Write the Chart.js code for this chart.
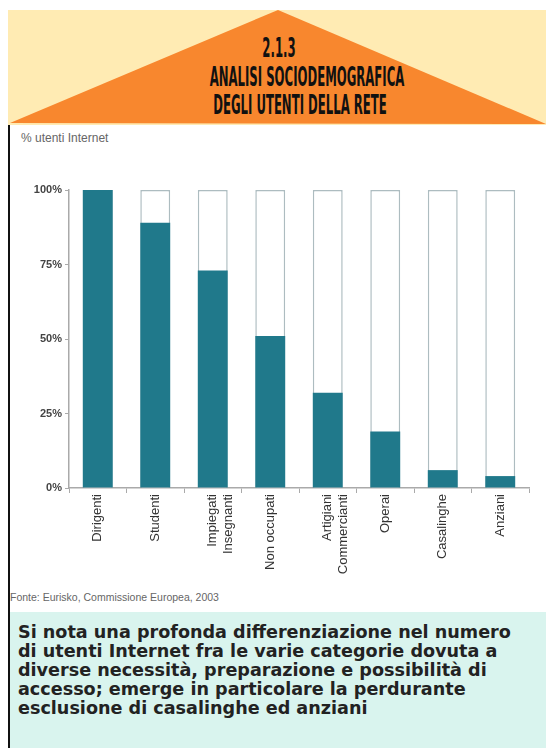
<!DOCTYPE html>
<html lang="it">
<head>
<meta charset="UTF-8">
<title>Analisi sociodemografica degli utenti della rete</title>
<style>
  body { margin: 0; width: 546px; height: 748px; background: #fff; position: relative; overflow: hidden; font-family: "Liberation Sans", Arial, sans-serif; }
  #band { position: absolute; left: 8px; top: 10px; width: 538px; height: 115px; background: #ffebb3; }
  #tri { position: absolute; left: 0; top: 10px; }
  .ttl { position: absolute; width: 400px; text-align: center; font-family: "DejaVu Sans Condensed", "DejaVu Sans", sans-serif; font-weight: bold; font-stretch: condensed; font-size: 26px; color: #111; transform: scaleX(0.5); line-height: 1; white-space: nowrap; }
  #leftline { position: absolute; left: 8px; top: 125px; width: 2px; height: 623px; background: #111; }
  #ytitle { position: absolute; left: 21px; top: 131px; font-size: 12px; color: #666; }
  #wrap { position: absolute; left: 10px; top: 170px; width: 528px; height: 418px; }
  #source { position: absolute; left: 10px; top: 591px; font-size: 10.5px; color: #666; }
  #note { position: absolute; left: 10px; top: 612px; width: 536px; height: 136px; background: #d9f4ee; }
  #note p { margin: 0; padding: 11px 0 0 8px; font-family: "DejaVu Sans", sans-serif; font-weight: bold; font-size: 17.6px; line-height: 19px; color: #222; white-space: nowrap; }
</style>
<script src="https://cdn.jsdelivr.net/npm/chart.js@4"></script>
</head>
<body>
<div id="band"></div>
<svg id="tri" width="546" height="115"><polygon points="278,0 10,113 546,114" fill="#f8872e"/></svg>
<div class="ttl" style="top:35px; left:79px">2.1.3</div>
<div class="ttl" style="top:64px; left:107px">ANALISI SOCIODEMOGRAFICA</div>
<div class="ttl" style="top:92px; left:100px">DEGLI UTENTI DELLA RETE</div>
<div id="leftline"></div>
<div id="ytitle">% utenti Internet</div>
<div id="wrap"><canvas id="chart"></canvas></div>
<div id="source">Fonte: Eurisko, Commissione Europea, 2003</div>
<div id="note"><p>Si nota una profonda differenziazione nel numero<br>di utenti Internet fra le varie categorie dovuta a<br>diverse necessità, preparazione e possibilità di<br>accesso; emerge in particolare la perdurante<br>esclusione di casalinghe ed anziani</p></div>

<script>
  const categorie = [
    "Dirigenti", "Studenti", ["Impiegati", "Insegnanti"], "Non occupati",
    ["Artigiani", "Commercianti"], "Operai", "Casalinghe", "Anziani"
  ];
  const utenti = [100, 89, 73, 51, 32, 19, 6, 4];
  const totale = [100, 100, 100, 100, 100, 100, 100, 100];
  const tickY = [0, 25, 50, 75, 100];

  new Chart(document.getElementById('chart'), {
    type: 'bar',
    data: {
      labels: categorie,
      datasets: [
        { data: utenti, backgroundColor: '#20798b', borderWidth: 0, grouped: false, order: 0 },
        { data: totale, backgroundColor: '#ffffff', borderColor: '#adbcc0', borderWidth: 1.5, grouped: false, order: 1 }
      ]
    },
    options: {
      responsive: true,
      maintainAspectRatio: false,
      animation: false,
      layout: { padding: { top: 20, right: 9, left: 0, bottom: 0 } },
      datasets: { bar: { categoryPercentage: 1, barPercentage: 0.52 } },
      plugins: { legend: { display: false }, tooltip: { enabled: false } },
      scales: {
        x: {
          border: { color: '#aaa', width: 1.5 },
          grid: { display: true, drawOnChartArea: false, offset: true, tickLength: 5, color: '#aaa' },
          afterFit: s => { s.height = 100; },
          ticks: {
            minRotation: 90, maxRotation: 90, autoSkip: false,
            color: '#333', padding: 1,
            font: { family: 'Liberation Sans', size: 13 }
          }
        },
        y: {
          min: 0, max: 100,
          border: { color: '#aaa', width: 1.5 },
          grid: { display: true, drawOnChartArea: false, tickLength: 4, color: '#aaa' },
          afterFit: s => { s.width = 59; },
          afterBuildTicks: s => { s.ticks = tickY.map(v => ({ value: v })); },
          ticks: {
            color: '#444', padding: 3,
            font: { family: 'Liberation Sans', size: 11, weight: 'bold' },
            callback: v => v + '%'
          }
        }
      }
    }
  });
</script>
</body>
</html>
